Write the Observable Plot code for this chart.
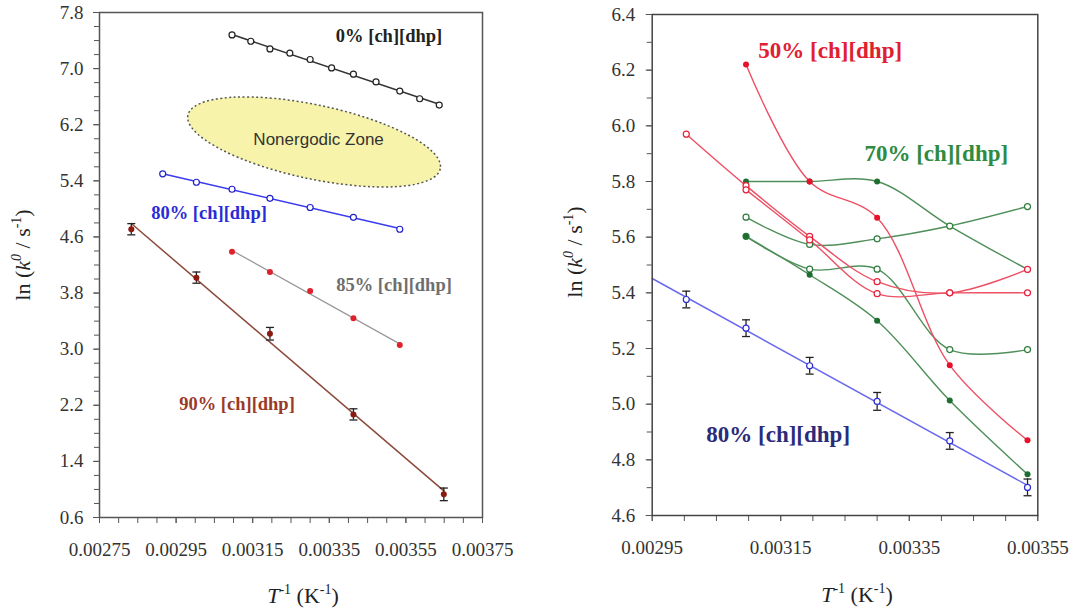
<!DOCTYPE html>
<html><head><meta charset="utf-8">
<script src="https://cdn.jsdelivr.net/npm/d3@7"></script>
<script src="https://cdn.jsdelivr.net/npm/@observablehq/plot@0.6"></script>
<style>
body{margin:0;background:#fff;}
#wrap{position:relative;width:1079px;height:615px;overflow:hidden;background:#fff;}
#left,#right{position:absolute;top:0;}
#left{left:0;} #right{left:540px;}
</style></head><body><div id="wrap"><div id="left"></div><div id="right"></div></div>
<script>
// ---------- Left panel data ----------
const x0 = [0.003096,0.003145,0.003195,0.003247,0.0033,0.003356,0.003413,0.003472,0.003534,0.003586,0.003637];
const y0 = [7.48,7.39,7.28,7.22,7.13,7.01,6.92,6.81,6.68,6.57,6.48];
const x80L = [0.002915,0.003003,0.003096,0.003195,0.0033,0.003413,0.003534];
const y80L = [5.50,5.38,5.28,5.15,5.02,4.88,4.71];
const x85 = [0.003096,0.003195,0.0033,0.003413,0.003534];
const y85 = [4.39,4.10,3.83,3.44,3.06];
const x90 = [0.002833,0.003003,0.003195,0.003413,0.003649];
const y90 = [4.71,4.02,3.22,2.07,0.93];
const e90 = [0.08,0.08,0.09,0.08,0.09];
const leftXTicks = [0.00275,0.00295,0.00315,0.00335,0.00355,0.00375];
const leftYTicks = [0.6,1.4,2.2,3.0,3.8,4.6,5.4,6.2,7.0,7.8];

// ---------- Right panel data ----------
const xR = [0.003003,0.003096,0.003195,0.0033,0.003413,0.003534];
const y80R = [5.376,5.273,5.138,5.010,4.868,4.701];
const e80R = [0.03,0.03,0.03,0.032,0.03,0.03];
const xR5 = [0.003096,0.003195,0.0033,0.003413,0.003534];
const y50a = [6.22,5.80,5.67,5.14,4.87];          // filled
const y50b = [5.97,5.785,5.603,5.44,5.40,5.484];  // open (starts at xR[0])
const y50c = [5.77,5.59,5.397,5.40,5.40];         // open
const y70a = [5.80,5.80,5.80,5.64,5.484];         // filled
const y70b = [5.672,5.574,5.594,5.64,5.71];       // open
const y70c = [5.603,5.465,5.30,5.013,4.748];      // filled
const y70d = [5.603,5.485,5.485,5.196,5.196];     // open
const rightXTicks = [0.00295,0.00315,0.00335,0.00355];
const rightYTicks = [4.6,4.8,5.0,5.2,5.4,5.6,5.8,6.0,6.2,6.4];

// ---------- helpers ----------
const serif = "Liberation Serif, Tinos, DejaVu Serif, Noto Serif, Times New Roman, serif";
const sans = "Liberation Sans, Arimo, Arial, sans-serif";
const pts = (xs, ys, es) => xs.map((x, i) => ({x, y: ys[i], e: es ? es[i] : 0}));
function fitLine(xs, ys, xa, xb) {
  const mx = d3.mean(xs), my = d3.mean(ys);
  let sxy = 0, sxx = 0;
  xs.forEach((x, i) => { sxy += (x - mx) * (ys[i] - my); sxx += (x - mx) ** 2; });
  const b = sxy / sxx;
  return [{x: xa, y: my + b * (xa - mx)}, {x: xb, y: my + b * (xb - mx)}];
}
const capSymbol = {draw(ctx, size) { const w = Math.sqrt(size / Math.PI); ctx.moveTo(-w, 0); ctx.lineTo(w, 0); }};
const errorMarks = (data) => [
  Plot.ruleX(data, {x: "x", y1: d => d.y - d.e, y2: d => d.y + d.e, stroke: "#222", strokeWidth: 1.3}),
  Plot.dot(data, {x: "x", y: d => d.y - d.e, symbol: capSymbol, r: 4, stroke: "#222", strokeWidth: 1.3, fill: "none"}),
  Plot.dot(data, {x: "x", y: d => d.y + d.e, symbol: capSymbol, r: 4, stroke: "#222", strokeWidth: 1.3, fill: "none"})
];
const openDots = (data, color) => Plot.dot(data, {x: "x", y: "y", r: 3, stroke: color, strokeWidth: 1.2, fill: "white"});
const filledDots = (data, color) => Plot.dot(data, {x: "x", y: "y", r: 3, fill: color, stroke: "none"});
const axes = (xTicks, xMinor, yTicks, yMinor, xPad, yPad) => [
  Plot.axisX({ticks: xMinor, tickSize: 6, tickFormat: () => "", label: null, stroke: "#555"}),
  Plot.axisX({ticks: xTicks, tickSize: 6, tickPadding: xPad, tickFormat: d3.format(".5f"), label: null, stroke: "#555", fontFamily: serif}),
  Plot.axisY({ticks: yMinor, tickSize: 5, tickFormat: () => "", label: null, stroke: "#555"}),
  Plot.axisY({ticks: yTicks, tickSize: 6, tickPadding: yPad, tickFormat: d3.format(".1f"), label: null, stroke: "#555", fontFamily: serif})
];
function addTitles(svg, yx, yy, xx, xy) {
  const s = d3.select(svg);
  const yt = s.append("text").attr("transform", `translate(${yx},${yy}) rotate(-90)`)
    .attr("text-anchor", "middle").style("font-family", serif).attr("font-size", 22).attr("fill", "#222");
  yt.append("tspan").text("ln (");
  yt.append("tspan").attr("font-style", "italic").text("k");
  yt.append("tspan").attr("font-style", "italic").attr("font-size", 14).attr("dy", -9).text("0");
  yt.append("tspan").attr("dy", 9).text(" / s");
  yt.append("tspan").attr("font-size", 14).attr("dy", -9).text("-1");
  yt.append("tspan").attr("dy", 9).text(")");
  const xt = s.append("text").attr("x", xx).attr("y", xy)
    .attr("text-anchor", "middle").style("font-family", serif).attr("font-size", 22).attr("fill", "#222");
  xt.append("tspan").attr("font-style", "italic").text("T");
  xt.append("tspan").attr("font-size", 14).attr("dy", -9).text("-1");
  xt.append("tspan").attr("dy", 9).text(" (K");
  xt.append("tspan").attr("font-size", 14).attr("dy", -9).text("-1");
  xt.append("tspan").attr("dy", 9).text(")");
}
const label = (l, size) => Plot.text([l], {x: "x", y: "y", text: "text", fill: l.color, fontWeight: "bold", fontSize: size, fontFamily: serif});

// ---------- annotations ----------
const leftLabels = [
  {text: "0% [ch][dhp]", x: 0.003506, y: 7.47, color: "#222"},
  {text: "80% [ch][dhp]", x: 0.003036, y: 4.94, color: "#2a2ad8"},
  {text: "85% [ch][dhp]", x: 0.003519, y: 3.91, color: "#6e6e6e"},
  {text: "90% [ch][dhp]", x: 0.003109, y: 2.22, color: "#9a3a28"}
];
const zone = {text: "Nonergodic Zone", x: 0.003322, y: 5.99, rx: 129, ry: 37, angle: 12};
const rightLabels = [
  {text: "50% [ch][dhp]", x: 0.003227, y: 6.27, color: "#e02030"},
  {text: "70% [ch][dhp]", x: 0.003392, y: 5.90, color: "#2e8b40"},
  {text: "80% [ch][dhp]", x: 0.003146, y: 4.89, color: "#2b2b7a"}
];

// ---------- Left plot ----------
const d0 = pts(x0, y0), d80L = pts(x80L, y80L), d85 = pts(x85, y85), d90 = pts(x90, y90, e90);
const left = Plot.plot({
  width: 540, height: 615, marginLeft: 99, marginRight: 58, marginTop: 12, marginBottom: 98,
  x: {domain: [0.00275, 0.00375]}, y: {domain: [0.6, 7.8]},
  style: {fontFamily: serif, fontSize: "19px", color: "#333", background: "white", overflow: "visible"},
  marks: [
    ...axes(leftXTicks, d3.range(0, 21).map(i => 0.00275 + i * 0.00005), leftYTicks,
            d3.range(0, 37).map(i => 0.6 + i * 0.2), 19, 10),
    Plot.line(fitLine(x0, y0, d3.min(x0), d3.max(x0)), {x: "x", y: "y", stroke: "#333", strokeWidth: 1.5}),
    Plot.line(fitLine(x80L, y80L, d3.min(x80L), d3.max(x80L)), {x: "x", y: "y", stroke: "#3a3aee", strokeWidth: 1.5}),
    Plot.line(fitLine(x85, y85, d3.min(x85), d3.max(x85)), {x: "x", y: "y", stroke: "#9a9a9a", strokeWidth: 1.3}),
    Plot.line(fitLine(x90, y90, d3.min(x90), d3.max(x90)), {x: "x", y: "y", stroke: "#8b4a3a", strokeWidth: 1.5}),
    openDots(d0, "#222"),
    openDots(d80L, "#2222cc"),
    filledDots(d85, "#e0202a"),
    ...errorMarks(d90),
    filledDots(d90, "#8b1a10"),
    Plot.text([zone], {x: "x", y: "y", text: "text", fill: "#333", fontSize: 17, fontFamily: sans}),
    ...leftLabels.map(l => label(l, 18.5)),
    Plot.frame({stroke: "#555", strokeWidth: 1.5})
  ]
});
document.getElementById("left").appendChild(left);
{
  const sx = left.scale("x"), sy = left.scale("y");
  const cx = sx.apply(zone.x) - 4, cy = sy.apply(zone.y) + 3;
  d3.select(left).insert("ellipse", "g")
    .attr("cx", 0).attr("cy", 0).attr("rx", zone.rx).attr("ry", zone.ry)
    .attr("transform", `translate(${cx},${cy}) rotate(${zone.angle})`)
    .attr("fill", "#f7f3aa").attr("stroke", "#555").attr("stroke-width", 1.5)
    .attr("stroke-dasharray", "2,2.5");
}
addTitles(left, 30, 255, 303, 603);

// ---------- Right plot ----------
const d80R = pts(xR, y80R, e80R);
const series = [
  {ys: y70d, xs: xR5, filled: false, line: "#4f8f5a", mark: "#2e7d3c"},
  {ys: y70c, xs: xR5, filled: true, line: "#4f8f5a", mark: "#1e6e30"},
  {ys: y70a, xs: xR5, filled: true, line: "#4f8f5a", mark: "#1e6e30"},
  {ys: y70b, xs: xR5, filled: false, line: "#4f8f5a", mark: "#2e7d3c"},
  {ys: y50b, xs: xR, filled: false, line: "#ee4f63", mark: "#e8203a"},
  {ys: y50c, xs: xR5, filled: false, line: "#ee4f63", mark: "#e8203a"},
  {ys: y50a, xs: xR5, filled: true, line: "#ee4f63", mark: "#e8102a"}
];
const right = Plot.plot({
  width: 539, height: 615, marginLeft: 111.7, marginRight: 41.7, marginTop: 14, marginBottom: 100,
  x: {domain: [0.00295, 0.00355]}, y: {domain: [4.6, 6.4]},
  style: {fontFamily: serif, fontSize: "19px", color: "#333", background: "white", overflow: "visible"},
  marks: [
    ...axes(rightXTicks, d3.range(0, 13).map(i => 0.00295 + i * 0.00005), rightYTicks,
            d3.range(0, 19).map(i => 4.6 + i * 0.1), 19, 11),
    Plot.line(fitLine(xR, y80R, 0.00295, d3.max(xR)), {x: "x", y: "y", stroke: "#6a6af0", strokeWidth: 1.5}),
    ...errorMarks(d80R),
    openDots(d80R, "#3030d0"),
    ...series.map(s => Plot.line(pts(s.xs, s.ys), {x: "x", y: "y", stroke: s.line, strokeWidth: 1.4, curve: "catmull-rom"})),
    ...series.map(s => s.filled ? filledDots(pts(s.xs, s.ys), s.mark) : openDots(pts(s.xs, s.ys), s.mark)),
    ...rightLabels.map(l => label(l, 23)),
    Plot.frame({stroke: "#444", strokeWidth: 1.5})
  ]
});
document.getElementById("right").appendChild(right);
addTitles(right, 42, 252, 317, 602);
</script></body></html>
